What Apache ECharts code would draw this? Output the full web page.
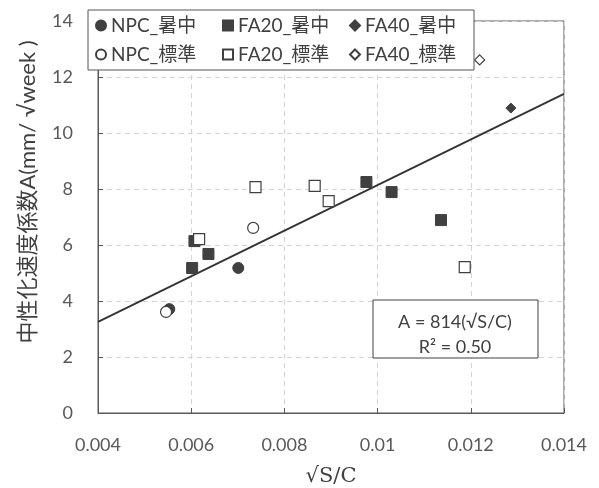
<!DOCTYPE html>
<html>
<head>
<meta charset="utf-8">
<script src="https://cdn.jsdelivr.net/npm/echarts@6/dist/echarts.min.js"></script>
<style>html,body{margin:0;padding:0;background:#fff}#c{width:599px;height:488px}</style>
</head>
<body>
<div id="c"></div>
<script>
var seriesNames = ["NPC_暑中", "FA20_暑中", "FA40_暑中", "NPC_標準", "FA20_標準", "FA40_標準"];
var npcSummer = [[0.00553, 3.71], [0.00701, 5.18]];
var fa20Summer = [[0.00607, 6.14], [0.00602, 5.18], [0.00637, 5.68], [0.00976, 8.25], [0.0103, 7.89], [0.01136, 6.89]];
var fa40Summer = [[0.01286, 10.89]];
var npcStd = [[0.00546, 3.61], [0.00733, 6.61]];
var fa20Std = [[0.00617, 6.21], [0.00738, 8.07], [0.00865, 8.11], [0.00895, 7.57], [0.01187, 5.21]];
var fa40Std = [[0.01219, 12.61]];
var trendSlope = 814;
var trendX = [0.004, 0.014];
var xTicks = [0.004, 0.006, 0.008, 0.01, 0.012, 0.014];
var yTicks = [0, 2, 4, 6, 8, 10, 12, 14];
var eqText = ["A = 814(√S/C)", "R² = 0.50"];

var dark = "#404040";
var fontFam = "Lato, 'Noto Sans CJK JP', sans-serif";
var trendData = trendX.map(function (x) { return [x, trendSlope * x]; });

function filled(name, data, sym, size) {
  return { name: name, type: "scatter", data: data, symbol: sym, symbolSize: size,
    itemStyle: { color: dark, borderColor: dark, borderWidth: 1, opacity: 1 }, z: 3 };
}
function open(name, data, sym, size) {
  return { name: name, type: "scatter", data: data, symbol: sym, symbolSize: size,
    itemStyle: { color: "#ffffff", borderColor: dark, borderWidth: 1.2, opacity: 1 }, z: 4 };
}

var chart = echarts.init(document.getElementById("c"), null, { renderer: "canvas" });
chart.setOption({
  animation: false,
  textStyle: { fontFamily: fontFam },
  grid: { left: 98, right: 35, top: 21, bottom: 75, show: true, borderColor: "#595959", borderWidth: 1,
    containLabel: false, outerBoundsMode: "none" },
  legend: {
    data: seriesNames,
    left: 88, top: 10, width: 375,
    padding: [5, 6, 5, 7],
    itemGap: 8,
    itemWidth: 10, itemHeight: 10,
    backgroundColor: "#ffffff",
    borderColor: "#555555", borderWidth: 1,
    textStyle: { fontSize: 19, color: "#404040", fontFamily: fontFam, width: 103, lineHeight: 21 }
  },
  xAxis: {
    type: "value", min: xTicks[0], max: xTicks[xTicks.length - 1], interval: 0.002,
    name: "√S/C", nameLocation: "middle", nameGap: 53,
    nameTextStyle: { fontSize: 21, color: "#404040", fontFamily: "'DejaVu Serif', 'Liberation Serif', serif" },
    axisLine: { show: true, lineStyle: { color: "#595959" } },
    axisTick: { show: true, inside: true, length: 5, lineStyle: { color: "#595959" } },
    axisLabel: { fontSize: 18, color: "#595959", margin: 23,
      formatter: function (v) { return String(+v.toFixed(3)); } },
    splitLine: { show: true, lineStyle: { color: "#d4d4d4", type: [5, 4] } }
  },
  yAxis: {
    type: "value", min: 0, max: 14, interval: 2,
    name: "中性化速度係数A(mm/ √week )", nameLocation: "middle", nameGap: 59,
    nameTextStyle: { fontSize: 22, color: "#404040", fontFamily: fontFam, padding: [0, 0, 0, 50] },
    axisLine: { show: true, lineStyle: { color: "#595959" } },
    axisTick: { show: true, inside: true, length: 5, lineStyle: { color: "#595959" } },
    axisLabel: { fontSize: 18, color: "#595959", margin: 25 },
    splitLine: { show: true, lineStyle: { color: "#d4d4d4", type: [5, 4] } }
  },
  series: [
    filled(seriesNames[0], npcSummer, "circle", 11),
    filled(seriesNames[1], fa20Summer, "rect", 11),
    filled(seriesNames[2], fa40Summer, "diamond", 10),
    open(seriesNames[3], npcStd, "circle", 11),
    open(seriesNames[4], fa20Std, "rect", 11),
    open(seriesNames[5], fa40Std, "diamond", 10),
    { type: "line", data: trendData, symbol: "none", silent: true, z: 2,
      lineStyle: { color: "#333333", width: 1.8 } }
  ],
  graphic: [
    { type: "rect", z: 10, shape: { x: 373, y: 300, width: 165, height: 58 },
      style: { fill: "#ffffff", stroke: "#404040", lineWidth: 1 } },
    { type: "text", z: 11, x: 455, y: 322, style: { text: eqText[0], fontSize: 18, fill: "#404040",
      fontFamily: fontFam, align: "center", verticalAlign: "middle" } },
    { type: "text", z: 11, x: 455, y: 347, style: { text: eqText[1], fontSize: 18, fill: "#404040",
      fontFamily: fontFam, align: "center", verticalAlign: "middle" } }
  ]
});
</script>
</body>
</html>
